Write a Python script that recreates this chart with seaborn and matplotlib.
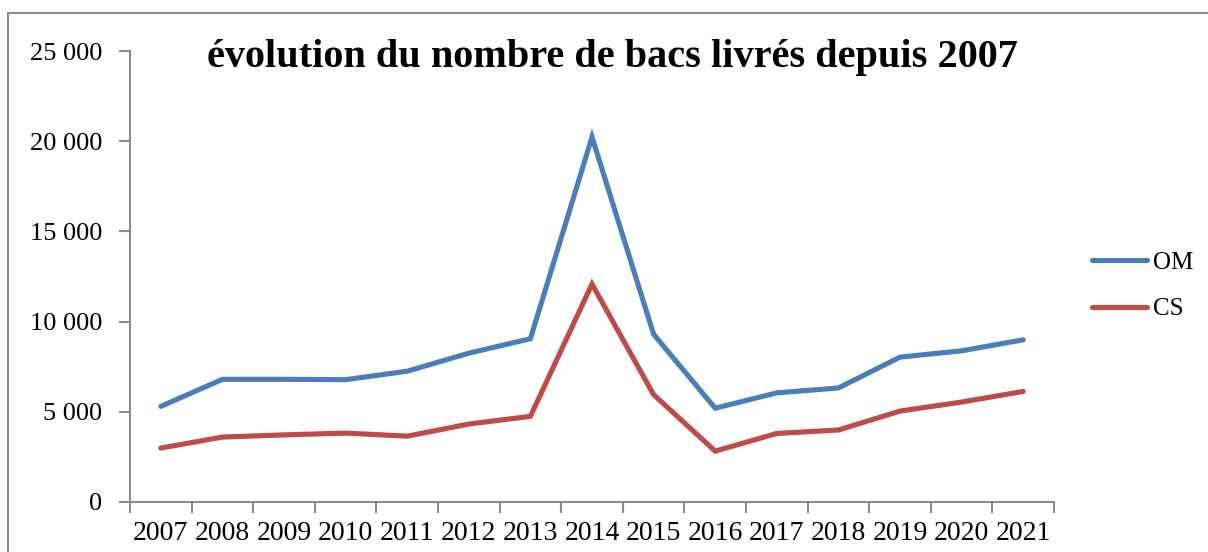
import pandas as pd
import numpy as np
import seaborn as sns
import matplotlib.pyplot as plt
from matplotlib.patches import Rectangle
from matplotlib.ticker import FuncFormatter

# données
annees = ["2007", "2008", "2009", "2010", "2011", "2012", "2013", "2014",
          "2015", "2016", "2017", "2018", "2019", "2020", "2021"]
om = [5300, 6800, 6800, 6780, 7250, 8250, 9050, 20230,
      9300, 5200, 6050, 6320, 8030, 8380, 8990]
cs = [2990, 3600, 3720, 3820, 3650, 4320, 4750, 12080,
      5950, 2820, 3800, 3990, 5040, 5540, 6130]
series = ["OM", "CS"]
couleurs = {"OM": "#4A7EBB", "CS": "#BE4B48"}

sns.set_theme(style="white")
plt.rcParams['font.family'] = ['Liberation Serif', 'DejaVu Serif']
plt.rcParams['text.color'] = 'black'

df = pd.DataFrame({
    "pos": list(range(len(annees))) * 2,
    "valeur": om + cs,
    "serie": ["OM"] * len(om) + ["CS"] * len(cs),
})

fig = plt.figure(figsize=(12.08, 5.52), dpi=100)
ax = fig.add_axes([130 / 1208, 1 - 502 / 552, 924 / 1208, 451 / 552])

sns.lineplot(data=df, x="pos", y="valeur", hue="serie", hue_order=series,
             palette=couleurs, linewidth=3.7, ax=ax, legend=False,
             solid_capstyle="round", solid_joinstyle="miter")

gris = "#8c8c8c"
ax.set_xlim(-0.5, len(annees) - 0.5)
ax.set_ylim(0, 25000)
ax.set_yticks(np.arange(0, 25001, 5000))
ax.yaxis.set_major_formatter(FuncFormatter(lambda v, p: f"{int(v):,}".replace(",", " ")))
ax.set_xticks(np.arange(-0.5, len(annees), 1.0))
ax.set_xticklabels([])
ax.set_xticks(np.arange(len(annees)), minor=True)
ax.set_xticklabels(annees, minor=True)
ax.tick_params(axis="x", which="major", bottom=True, length=8, width=1.5, color=gris, direction="out")
ax.tick_params(axis="x", which="minor", bottom=True, length=0, pad=14, labelsize=20, labelcolor="black")
ax.tick_params(axis="y", left=True, length=8, width=1.5, color=gris, direction="out", pad=12,
               labelsize=19, labelcolor="black")
for s in ["top", "right"]:
    ax.spines[s].set_visible(False)
for s in ["left", "bottom"]:
    ax.spines[s].set_color(gris)
    ax.spines[s].set_linewidth(1.5)
ax.set_xlabel("")
ax.set_ylabel("")

# légende à droite
for s in series:
    ax.plot([], [], color=couleurs[s], linewidth=3.7, label=s, solid_capstyle="round")
fig.legend(loc="center left", bbox_to_anchor=(1092 / 1208, 1 - 286 / 552), frameon=False,
           fontsize=18, handlelength=2.2, handletextpad=0.25, labelspacing=0.95, borderpad=0,
           borderaxespad=0)

fig.text(0.507, 1 - 57 / 552, "évolution du nombre de bacs livrés depuis 2007",
         ha="center", va="center", fontsize=29, fontweight="bold")

fig.patches.append(Rectangle((8 / 1208, -0.1), 1.2, 1.1 - 13 / 552, transform=fig.transFigure,
                             fill=False, edgecolor=gris, linewidth=1.5, clip_on=False))

plt.savefig("out.png", dpi=100)
